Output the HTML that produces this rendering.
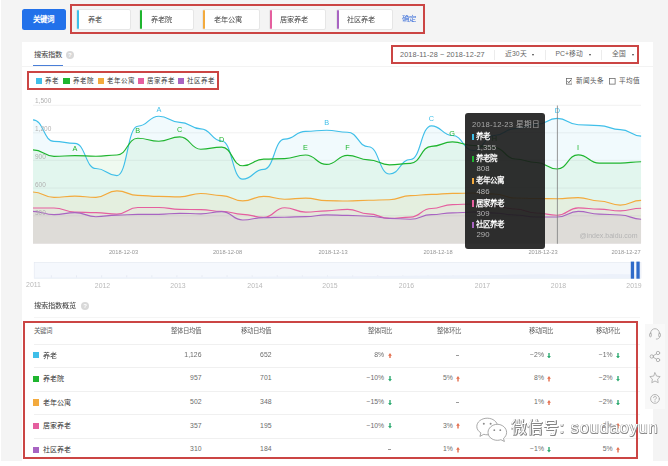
<!DOCTYPE html>
<html lang="zh-CN"><head><meta charset="utf-8">
<style>
*{margin:0;padding:0;box-sizing:border-box}
html,body{width:668px;height:466px;overflow:hidden}
body{background:#f4f4f4;font-family:"Liberation Sans",sans-serif;position:relative;color:#444}
.a{position:absolute;white-space:nowrap;line-height:1}
.red{position:absolute;border:2px solid #cb4544}
.inp{position:absolute;top:8.5px;height:21px;background:#fff;border-radius:2px;border:0.5px solid #e6e6e6}
.inp i{position:absolute;left:0;top:0;bottom:0;width:2px;border-radius:1px}
.inp span{position:absolute;left:10.9px;top:6.1px;font-size:7.2px;line-height:1;color:#444;white-space:nowrap}
.sq{position:absolute;width:6.4px;height:6.2px}
.hl{position:absolute;height:1px;background:#f0f0f0;left:33.5px;width:606.5px}
.r{text-align:right}
.wm{color:#fff;text-shadow:0.55px 0.55px 0 #858585,-0.45px -0.45px 0 #b0b0b0,0.55px -0.45px 0 #a2a2a2,-0.45px 0.55px 0 #a2a2a2,0.7px 0 0 #949494,0 0.7px 0 #949494}
</style></head><body style="filter:blur(0.4px)">
<!-- top bar -->
<div class="a" style="left:21.5px;top:8.5px;width:44px;height:21.5px;background:#2271ea;border-radius:2.5px;color:#fff;font-weight:bold;font-size:7.5px;text-align:center;line-height:21.5px">关键词</div>
<div class="inp" style="left:76px;width:54.5px"><i style="background:#3fbfe9"></i><span>养老</span></div>
<div class="inp" style="left:139px;width:54.5px"><i style="background:#1fb52f"></i><span>养老院</span></div>
<div class="inp" style="left:202px;width:57.5px"><i style="background:#f3aa3d"></i><span>老年公寓</span></div>
<div class="inp" style="left:268.5px;width:57.5px"><i style="background:#e55f9f"></i><span>居家养老</span></div>
<div class="inp" style="left:335.5px;width:57.5px"><i style="background:#a864c2"></i><span>社区养老</span></div>
<div class="a" style="left:402px;top:14.8px;font-size:7.4px;color:#3c6fd9">确定</div>
<div class="red" style="left:69.5px;top:3.5px;width:355px;height:30px"></div>

<!-- main panel -->
<div class="a" style="left:21.5px;top:41.5px;width:631px;height:430px;background:#fff"></div>
<div class="a" style="left:33.8px;top:51.2px;font-size:7.3px;color:#3a3a3a">搜索指数</div>
<div class="a" style="left:65.8px;top:50.7px;width:8.2px;height:8.2px;border-radius:50%;background:#d8d8d8;color:#fff;font-size:6px;line-height:8.4px;text-align:center;font-weight:bold">?</div>
<div class="a" style="left:33.2px;top:64.7px;width:30px;height:2px;background:#4a7fd8"></div>
<div class="a" style="left:21.5px;top:66px;width:631px;height:1px;background:#f3f3f3"></div>

<!-- controls -->
<div class="a" style="left:400px;top:50.5px;font-size:7.3px;color:#666;letter-spacing:0.1px">2018-11-28 ~ 2018-12-27</div>
<div class="a" style="left:494px;top:49.5px;width:1px;height:10px;background:#ececec"></div>
<div class="a" style="left:505px;top:50.8px;font-size:6.8px;color:#666">近30天</div>
<div class="a" style="left:532.2px;top:53.500px;width:0;height:0;border-left:1.900px solid transparent;border-right:1.900px solid transparent;border-top:2.500px solid #444"></div>
<div class="a" style="left:544.5px;top:49.5px;width:1px;height:10px;background:#ececec"></div>
<div class="a" style="left:555.5px;top:50.8px;font-size:6.8px;color:#666">PC+移动</div>
<div class="a" style="left:588.7px;top:53.500px;width:0;height:0;border-left:1.900px solid transparent;border-right:1.900px solid transparent;border-top:2.500px solid #444"></div>
<div class="a" style="left:600.5px;top:49.5px;width:1px;height:10px;background:#ececec"></div>
<div class="a" style="left:612px;top:50.8px;font-size:6.8px;color:#666">全国</div>
<div class="a" style="left:631.700px;top:53.500px;width:0;height:0;border-left:1.900px solid transparent;border-right:1.900px solid transparent;border-top:2.500px solid #444"></div>
<div class="red" style="left:390.5px;top:45px;width:248.5px;height:18.5px"></div>

<!-- legend -->
<div class="sq" style="left:35.9px;top:77.9px;background:#3fbfe9"></div><div class="a" style="left:44.5px;top:77.7px;font-size:6.5px;color:#3a3a3a">养老</div>
<div class="sq" style="left:63.3px;top:77.9px;background:#1fb52f"></div><div class="a" style="left:72.5px;top:77.7px;font-size:6.5px;color:#3a3a3a">养老院</div>
<div class="sq" style="left:97.5px;top:77.9px;background:#f3aa3d"></div><div class="a" style="left:106.5px;top:77.7px;font-size:6.5px;color:#3a3a3a">老年公寓</div>
<div class="sq" style="left:137.8px;top:77.9px;background:#e55f9f"></div><div class="a" style="left:147px;top:77.7px;font-size:6.5px;color:#3a3a3a">居家养老</div>
<div class="sq" style="left:177.8px;top:77.9px;background:#a864c2"></div><div class="a" style="left:187px;top:77.7px;font-size:6.5px;color:#3a3a3a">社区养老</div>
<div class="red" style="left:27.1px;top:71.3px;width:191.5px;height:18.7px"></div>

<!-- checkboxes -->
<svg class="a" style="left:565.7px;top:78.2px" width="6.500" height="6.500" viewBox="0 0 6 6"><rect x=".35" y=".35" width="5.300" height="5.300" fill="#fff" stroke="#666" stroke-width=".7"/><path d="M1.400 3l1.200 1.300 2.100-2.700" fill="none" stroke="#444" stroke-width=".8"/></svg>
<div class="a" style="left:575.5px;top:78px;font-size:6.6px;color:#555">新闻头条</div>
<svg class="a" style="left:609.4px;top:78.2px" width="6.500" height="6.500" viewBox="0 0 6 6"><rect x=".35" y=".35" width="5.300" height="5.300" fill="#fff" stroke="#666" stroke-width=".7"/></svg>
<div class="a" style="left:619px;top:78px;font-size:6.6px;color:#555">平均值</div>

<!-- chart -->
<svg class="a" style="left:0;top:0" width="668" height="300" viewBox="0 0 668 300" font-family="Liberation Sans, sans-serif">
<g stroke="#f0f0f0" stroke-width="0.9">
<line x1="33" y1="105.3" x2="641" y2="105.3"/><line x1="33" y1="132.8" x2="641" y2="132.8"/><line x1="33" y1="160.4" x2="641" y2="160.4"/><line x1="33" y1="188.1" x2="641" y2="188.1"/><line x1="33" y1="215.8" x2="641" y2="215.8"/>
</g>
<path d="M33.0 119.8C43.5 119.8 43.5 141.4 54.0 141.4C64.5 141.4 64.5 143.3 74.9 143.3C85.4 143.3 85.4 168.5 95.9 168.5C106.4 168.5 106.4 175.6 116.9 175.6C127.4 175.6 127.4 126.2 137.8 126.2C148.3 126.2 148.3 116.2 158.8 116.2C169.3 116.2 169.3 122.3 179.8 122.3C190.3 122.3 190.3 128.9 200.8 128.9C211.2 128.9 211.2 141.0 221.7 141.0C232.2 141.0 232.2 179.1 242.7 179.1C253.2 179.1 253.2 169.4 263.7 169.4C274.2 169.4 274.2 139.1 284.6 139.1C295.1 139.1 295.1 131.4 305.6 131.4C316.1 131.4 316.1 130.2 326.6 130.2C337.1 130.2 337.1 132.2 347.5 132.2C358.0 132.2 358.0 146.7 368.5 146.7C379.0 146.7 379.0 174.0 389.5 174.0C400.0 174.0 400.0 159.5 410.5 159.5C420.9 159.5 420.9 125.8 431.4 125.8C441.9 125.8 441.9 135.5 452.4 135.5C462.9 135.5 462.9 150.5 473.4 150.5C483.9 150.5 483.9 135.5 494.3 135.5C504.8 135.5 504.8 128.5 515.3 128.5C525.8 128.5 525.8 124.5 536.3 124.5C546.8 124.5 546.8 118.3 557.2 118.3C567.7 118.3 567.7 124.7 578.2 124.7C588.7 124.7 588.7 125.6 599.2 125.6C609.7 125.6 609.7 129.6 620.2 129.6C630.6 129.6 630.6 136.1 641.1 136.1L641.1 243.8L33.0 243.8Z" fill="#3fbfe9" fill-opacity="0.07" stroke="none"/>
<path d="M33.0 149.9C43.5 149.9 43.5 156.3 54.0 156.3C64.5 156.3 64.5 155.6 74.9 155.6C85.4 155.6 85.4 156.2 95.9 156.2C106.4 156.2 106.4 155.0 116.9 155.0C127.4 155.0 127.4 138.2 137.8 138.2C148.3 138.2 148.3 141.2 158.8 141.2C169.3 141.2 169.3 136.8 179.8 136.8C190.3 136.8 190.3 149.2 200.8 149.2C211.2 149.2 211.2 147.1 221.7 147.1C232.2 147.1 232.2 165.7 242.7 165.7C253.2 165.7 253.2 159.1 263.7 159.1C274.2 159.1 274.2 158.6 284.6 158.6C295.1 158.6 295.1 155.0 305.6 155.0C316.1 155.0 316.1 164.4 326.6 164.4C337.1 164.4 337.1 155.3 347.5 155.3C358.0 155.3 358.0 159.8 368.5 159.8C379.0 159.8 379.0 164.9 389.5 164.9C400.0 164.9 400.0 163.3 410.5 163.3C420.9 163.3 420.9 146.3 431.4 146.3C441.9 146.3 441.9 141.9 452.4 141.9C462.9 141.9 462.9 145.5 473.4 145.5C483.9 145.5 483.9 147.5 494.3 147.5C504.8 147.5 504.8 159.0 515.3 159.0C525.8 159.0 525.8 162.5 536.3 162.5C546.8 162.5 546.8 169.0 557.2 169.0C567.7 169.0 567.7 154.8 578.2 154.8C588.7 154.8 588.7 163.1 599.2 163.1C609.7 163.1 609.7 163.1 620.2 163.1C630.6 163.1 630.6 161.7 641.1 161.7L641.1 243.8L33.0 243.8Z" fill="#1fb52f" fill-opacity="0.07" stroke="none"/>
<path d="M33.0 192.0C43.5 192.0 43.5 197.3 54.0 197.3C64.5 197.3 64.5 196.1 74.9 196.1C85.4 196.1 85.4 197.3 95.9 197.3C106.4 197.3 106.4 190.8 116.9 190.8C127.4 190.8 127.4 195.4 137.8 195.4C148.3 195.4 148.3 196.4 158.8 196.4C169.3 196.4 169.3 196.8 179.8 196.8C190.3 196.8 190.3 193.5 200.8 193.5C211.2 193.5 211.2 195.6 221.7 195.6C232.2 195.6 232.2 200.9 242.7 200.9C253.2 200.9 253.2 196.4 263.7 196.4C274.2 196.4 274.2 199.2 284.6 199.2C295.1 199.2 295.1 198.1 305.6 198.1C316.1 198.1 316.1 200.6 326.6 200.6C337.1 200.6 337.1 201.0 347.5 201.0C358.0 201.0 358.0 200.2 368.5 200.2C379.0 200.2 379.0 199.7 389.5 199.7C400.0 199.7 400.0 195.6 410.5 195.6C420.9 195.6 420.9 194.4 431.4 194.4C441.9 194.4 441.9 193.4 452.4 193.4C462.9 193.4 462.9 193.0 473.4 193.0C483.9 193.0 483.9 194.0 494.3 194.0C504.8 194.0 504.8 198.0 515.3 198.0C525.8 198.0 525.8 198.5 536.3 198.5C546.8 198.5 546.8 198.7 557.2 198.7C567.7 198.7 567.7 197.6 578.2 197.6C588.7 197.6 588.7 201.0 599.2 201.0C609.7 201.0 609.7 205.1 620.2 205.1C630.6 205.1 630.6 200.3 641.1 200.3L641.1 243.8L33.0 243.8Z" fill="#f3aa3d" fill-opacity="0.09" stroke="none"/>
<path d="M33.0 208.0C43.5 208.0 43.5 208.0 54.0 208.0C64.5 208.0 64.5 212.1 74.9 212.1C85.4 212.1 85.4 212.6 95.9 212.6C106.4 212.6 106.4 214.1 116.9 214.1C127.4 214.1 127.4 207.5 137.8 207.5C148.3 207.5 148.3 207.5 158.8 207.5C169.3 207.5 169.3 209.3 179.8 209.3C190.3 209.3 190.3 209.6 200.8 209.6C211.2 209.6 211.2 211.3 221.7 211.3C232.2 211.3 232.2 214.3 242.7 214.3C253.2 214.3 253.2 217.4 263.7 217.4C274.2 217.4 274.2 207.7 284.6 207.7C295.1 207.7 295.1 212.1 305.6 212.1C316.1 212.1 316.1 210.8 326.6 210.8C337.1 210.8 337.1 209.3 347.5 209.3C358.0 209.3 358.0 213.8 368.5 213.8C379.0 213.8 379.0 218.4 389.5 218.4C400.0 218.4 400.0 217.1 410.5 217.1C420.9 217.1 420.9 208.5 431.4 208.5C441.9 208.5 441.9 204.6 452.4 204.6C462.9 204.6 462.9 204.0 473.4 204.0C483.9 204.0 483.9 206.0 494.3 206.0C504.8 206.0 504.8 209.0 515.3 209.0C525.8 209.0 525.8 213.0 536.3 213.0C546.8 213.0 546.8 215.2 557.2 215.2C567.7 215.2 567.7 207.8 578.2 207.8C588.7 207.8 588.7 209.1 599.2 209.1C609.7 209.1 609.7 210.9 620.2 210.9C630.6 210.9 630.6 208.2 641.1 208.2L641.1 243.8L33.0 243.8Z" fill="#e55f9f" fill-opacity="0.05" stroke="none"/>
<path d="M33.0 211.3C43.5 211.3 43.5 214.6 54.0 214.6C64.5 214.6 64.5 212.6 74.9 212.6C85.4 212.6 85.4 216.7 95.9 216.7C106.4 216.7 106.4 215.1 116.9 215.1C127.4 215.1 127.4 214.3 137.8 214.3C148.3 214.3 148.3 214.3 158.8 214.3C169.3 214.3 169.3 213.3 179.8 213.3C190.3 213.3 190.3 213.8 200.8 213.8C211.2 213.8 211.2 211.6 221.7 211.6C232.2 211.6 232.2 220.0 242.7 220.0C253.2 220.0 253.2 217.6 263.7 217.6C274.2 217.6 274.2 217.2 284.6 217.2C295.1 217.2 295.1 216.6 305.6 216.6C316.1 216.6 316.1 214.9 326.6 214.9C337.1 214.9 337.1 215.4 347.5 215.4C358.0 215.4 358.0 216.2 368.5 216.2C379.0 216.2 379.0 218.4 389.5 218.4C400.0 218.4 400.0 219.2 410.5 219.2C420.9 219.2 420.9 214.6 431.4 214.6C441.9 214.6 441.9 212.9 452.4 212.9C462.9 212.9 462.9 212.0 473.4 212.0C483.9 212.0 483.9 213.0 494.3 213.0C504.8 213.0 504.8 215.0 515.3 215.0C525.8 215.0 525.8 217.0 536.3 217.0C546.8 217.0 546.8 217.0 557.2 217.0C567.7 217.0 567.7 211.4 578.2 211.4C588.7 211.4 588.7 214.1 599.2 214.1C609.7 214.1 609.7 215.0 620.2 215.0C630.6 215.0 630.6 219.2 641.1 219.2L641.1 243.8L33.0 243.8Z" fill="#a864c2" fill-opacity="0.09" stroke="none"/>
<path d="M33.0 119.8C43.5 119.8 43.5 141.4 54.0 141.4C64.5 141.4 64.5 143.3 74.9 143.3C85.4 143.3 85.4 168.5 95.9 168.5C106.4 168.5 106.4 175.6 116.9 175.6C127.4 175.6 127.4 126.2 137.8 126.2C148.3 126.2 148.3 116.2 158.8 116.2C169.3 116.2 169.3 122.3 179.8 122.3C190.3 122.3 190.3 128.9 200.8 128.9C211.2 128.9 211.2 141.0 221.7 141.0C232.2 141.0 232.2 179.1 242.7 179.1C253.2 179.1 253.2 169.4 263.7 169.4C274.2 169.4 274.2 139.1 284.6 139.1C295.1 139.1 295.1 131.4 305.6 131.4C316.1 131.4 316.1 130.2 326.6 130.2C337.1 130.2 337.1 132.2 347.5 132.2C358.0 132.2 358.0 146.7 368.5 146.7C379.0 146.7 379.0 174.0 389.5 174.0C400.0 174.0 400.0 159.5 410.5 159.5C420.9 159.5 420.9 125.8 431.4 125.8C441.9 125.8 441.9 135.5 452.4 135.5C462.9 135.5 462.9 150.5 473.4 150.5C483.9 150.5 483.9 135.5 494.3 135.5C504.8 135.5 504.8 128.5 515.3 128.5C525.8 128.5 525.8 124.5 536.3 124.5C546.8 124.5 546.8 118.3 557.2 118.3C567.7 118.3 567.7 124.7 578.2 124.7C588.7 124.7 588.7 125.6 599.2 125.6C609.7 125.6 609.7 129.6 620.2 129.6C630.6 129.6 630.6 136.1 641.1 136.1" fill="none" stroke="#3fbfe9" stroke-width="1.15" stroke-linejoin="round"/>
<path d="M33.0 149.9C43.5 149.9 43.5 156.3 54.0 156.3C64.5 156.3 64.5 155.6 74.9 155.6C85.4 155.6 85.4 156.2 95.9 156.2C106.4 156.2 106.4 155.0 116.9 155.0C127.4 155.0 127.4 138.2 137.8 138.2C148.3 138.2 148.3 141.2 158.8 141.2C169.3 141.2 169.3 136.8 179.8 136.8C190.3 136.8 190.3 149.2 200.8 149.2C211.2 149.2 211.2 147.1 221.7 147.1C232.2 147.1 232.2 165.7 242.7 165.7C253.2 165.7 253.2 159.1 263.7 159.1C274.2 159.1 274.2 158.6 284.6 158.6C295.1 158.6 295.1 155.0 305.6 155.0C316.1 155.0 316.1 164.4 326.6 164.4C337.1 164.4 337.1 155.3 347.5 155.3C358.0 155.3 358.0 159.8 368.5 159.8C379.0 159.8 379.0 164.9 389.5 164.9C400.0 164.9 400.0 163.3 410.5 163.3C420.9 163.3 420.9 146.3 431.4 146.3C441.9 146.3 441.9 141.9 452.4 141.9C462.9 141.9 462.9 145.5 473.4 145.5C483.9 145.5 483.9 147.5 494.3 147.5C504.8 147.5 504.8 159.0 515.3 159.0C525.8 159.0 525.8 162.5 536.3 162.5C546.8 162.5 546.8 169.0 557.2 169.0C567.7 169.0 567.7 154.8 578.2 154.8C588.7 154.8 588.7 163.1 599.2 163.1C609.7 163.1 609.7 163.1 620.2 163.1C630.6 163.1 630.6 161.7 641.1 161.7" fill="none" stroke="#1fb52f" stroke-width="1.15" stroke-linejoin="round"/>
<path d="M33.0 192.0C43.5 192.0 43.5 197.3 54.0 197.3C64.5 197.3 64.5 196.1 74.9 196.1C85.4 196.1 85.4 197.3 95.9 197.3C106.4 197.3 106.4 190.8 116.9 190.8C127.4 190.8 127.4 195.4 137.8 195.4C148.3 195.4 148.3 196.4 158.8 196.4C169.3 196.4 169.3 196.8 179.8 196.8C190.3 196.8 190.3 193.5 200.8 193.5C211.2 193.5 211.2 195.6 221.7 195.6C232.2 195.6 232.2 200.9 242.7 200.9C253.2 200.9 253.2 196.4 263.7 196.4C274.2 196.4 274.2 199.2 284.6 199.2C295.1 199.2 295.1 198.1 305.6 198.1C316.1 198.1 316.1 200.6 326.6 200.6C337.1 200.6 337.1 201.0 347.5 201.0C358.0 201.0 358.0 200.2 368.5 200.2C379.0 200.2 379.0 199.7 389.5 199.7C400.0 199.7 400.0 195.6 410.5 195.6C420.9 195.6 420.9 194.4 431.4 194.4C441.9 194.4 441.9 193.4 452.4 193.4C462.9 193.4 462.9 193.0 473.4 193.0C483.9 193.0 483.9 194.0 494.3 194.0C504.8 194.0 504.8 198.0 515.3 198.0C525.8 198.0 525.8 198.5 536.3 198.5C546.8 198.5 546.8 198.7 557.2 198.7C567.7 198.7 567.7 197.6 578.2 197.6C588.7 197.6 588.7 201.0 599.2 201.0C609.7 201.0 609.7 205.1 620.2 205.1C630.6 205.1 630.6 200.3 641.1 200.3" fill="none" stroke="#f3aa3d" stroke-width="1.15" stroke-linejoin="round"/>
<path d="M33.0 208.0C43.5 208.0 43.5 208.0 54.0 208.0C64.5 208.0 64.5 212.1 74.9 212.1C85.4 212.1 85.4 212.6 95.9 212.6C106.4 212.6 106.4 214.1 116.9 214.1C127.4 214.1 127.4 207.5 137.8 207.5C148.3 207.5 148.3 207.5 158.8 207.5C169.3 207.5 169.3 209.3 179.8 209.3C190.3 209.3 190.3 209.6 200.8 209.6C211.2 209.6 211.2 211.3 221.7 211.3C232.2 211.3 232.2 214.3 242.7 214.3C253.2 214.3 253.2 217.4 263.7 217.4C274.2 217.4 274.2 207.7 284.6 207.7C295.1 207.7 295.1 212.1 305.6 212.1C316.1 212.1 316.1 210.8 326.6 210.8C337.1 210.8 337.1 209.3 347.5 209.3C358.0 209.3 358.0 213.8 368.5 213.8C379.0 213.8 379.0 218.4 389.5 218.4C400.0 218.4 400.0 217.1 410.5 217.1C420.9 217.1 420.9 208.5 431.4 208.5C441.9 208.5 441.9 204.6 452.4 204.6C462.9 204.6 462.9 204.0 473.4 204.0C483.9 204.0 483.9 206.0 494.3 206.0C504.8 206.0 504.8 209.0 515.3 209.0C525.8 209.0 525.8 213.0 536.3 213.0C546.8 213.0 546.8 215.2 557.2 215.2C567.7 215.2 567.7 207.8 578.2 207.8C588.7 207.8 588.7 209.1 599.2 209.1C609.7 209.1 609.7 210.9 620.2 210.9C630.6 210.9 630.6 208.2 641.1 208.2" fill="none" stroke="#e55f9f" stroke-width="1.15" stroke-linejoin="round"/>
<path d="M33.0 211.3C43.5 211.3 43.5 214.6 54.0 214.6C64.5 214.6 64.5 212.6 74.9 212.6C85.4 212.6 85.4 216.7 95.9 216.7C106.4 216.7 106.4 215.1 116.9 215.1C127.4 215.1 127.4 214.3 137.8 214.3C148.3 214.3 148.3 214.3 158.8 214.3C169.3 214.3 169.3 213.3 179.8 213.3C190.3 213.3 190.3 213.8 200.8 213.8C211.2 213.8 211.2 211.6 221.7 211.6C232.2 211.6 232.2 220.0 242.7 220.0C253.2 220.0 253.2 217.6 263.7 217.6C274.2 217.6 274.2 217.2 284.6 217.2C295.1 217.2 295.1 216.6 305.6 216.6C316.1 216.6 316.1 214.9 326.6 214.9C337.1 214.9 337.1 215.4 347.5 215.4C358.0 215.4 358.0 216.2 368.5 216.2C379.0 216.2 379.0 218.4 389.5 218.4C400.0 218.4 400.0 219.2 410.5 219.2C420.9 219.2 420.9 214.6 431.4 214.6C441.9 214.6 441.9 212.9 452.4 212.9C462.9 212.9 462.9 212.0 473.4 212.0C483.9 212.0 483.9 213.0 494.3 213.0C504.8 213.0 504.8 215.0 515.3 215.0C525.8 215.0 525.8 217.0 536.3 217.0C546.8 217.0 546.8 217.0 557.2 217.0C567.7 217.0 567.7 211.4 578.2 211.4C588.7 211.4 588.7 214.1 599.2 214.1C609.7 214.1 609.7 215.0 620.2 215.0C630.6 215.0 630.6 219.2 641.1 219.2" fill="none" stroke="#a864c2" stroke-width="1.15" stroke-linejoin="round"/>
<g font-size="6.5" fill="#b0b0b0">
<text x="35" y="103.3">1,500</text><text x="35" y="131">1,200</text><text x="35" y="159">900</text><text x="35" y="186.8">600</text><text x="35" y="214.5">300</text>
</g>
<g font-size="7.3" text-anchor="middle">
<g fill="#1fb52f"><text x="75" y="150.8">A</text><text x="137.8" y="133">B</text><text x="179.7" y="132">C</text><text x="221.7" y="142.2">D</text><text x="305.5" y="150.2">E</text><text x="347.5" y="150.2">F</text><text x="452" y="135.8">G</text><text x="494.3" y="141.3">H</text><text x="578.1" y="150.2">I</text></g>
<g fill="#3fbfe9"><text x="158.9" y="112.2">A</text><text x="326.6" y="125.2">B</text><text x="431.4" y="121">C</text><text x="557.4" y="112.9">D</text></g>
</g>
<line x1="557.4" y1="105.5" x2="557.4" y2="243.8" stroke="#7d7d7d" stroke-width="0.8"/>
<text x="579.5" y="238" font-size="7" fill="#b4b4b4">@index.baidu.com</text>
<g font-size="5.7" fill="#959595" text-anchor="middle">
<text x="123.5" y="253.5">2018-12-03</text><text x="227.5" y="253.5">2018-12-08</text><text x="333" y="253.5">2018-12-13</text><text x="438" y="253.5">2018-12-18</text><text x="543" y="253.5">2018-12-23</text><text x="626" y="253.5">2018-12-27</text>
</g>
<!-- brush -->
<rect x="34.2" y="262.4" width="606.8" height="15.8" fill="#f5f8fd" stroke="#e3e8f1" stroke-width="0.6"/>
<g stroke="#dde3ec" stroke-width="0.6"><line x1="51.4" y1="275.3" x2="51.4" y2="278"/><line x1="76.5" y1="275.3" x2="76.5" y2="278"/><line x1="101.6" y1="275.3" x2="101.6" y2="278"/><line x1="126.7" y1="275.3" x2="126.7" y2="278"/><line x1="151.8" y1="275.3" x2="151.8" y2="278"/><line x1="176.9" y1="275.3" x2="176.9" y2="278"/><line x1="202.0" y1="275.3" x2="202.0" y2="278"/><line x1="227.1" y1="275.3" x2="227.1" y2="278"/><line x1="252.2" y1="275.3" x2="252.2" y2="278"/><line x1="277.3" y1="275.3" x2="277.3" y2="278"/><line x1="302.4" y1="275.3" x2="302.4" y2="278"/><line x1="327.5" y1="275.3" x2="327.5" y2="278"/><line x1="352.6" y1="275.3" x2="352.6" y2="278"/><line x1="377.7" y1="275.3" x2="377.7" y2="278"/><line x1="402.8" y1="275.3" x2="402.8" y2="278"/><line x1="427.9" y1="275.3" x2="427.9" y2="278"/><line x1="453.0" y1="275.3" x2="453.0" y2="278"/><line x1="478.1" y1="275.3" x2="478.1" y2="278"/><line x1="503.2" y1="275.3" x2="503.2" y2="278"/><line x1="528.3" y1="275.3" x2="528.3" y2="278"/><line x1="553.4" y1="275.3" x2="553.4" y2="278"/><line x1="578.5" y1="275.3" x2="578.5" y2="278"/><line x1="603.6" y1="275.3" x2="603.6" y2="278"/></g>
<path d="M34.2 277.5L120 277.300 200 277 280 276.600 360 276.200 430 275.600 500 275 540 274.300 580 274.800 610 274 641 274.600V278.200H34.200Z" fill="#ecf1fa"/>
<rect x="630.800" y="261.600" width="3.300" height="17.100" fill="#2f6bc9"/><rect x="636.400" y="261.600" width="3.300" height="17.100" fill="#2f6bc9"/>
<g font-size="6.900" fill="#b9b9b9" text-anchor="middle">
<text x="33.500" y="287.100">2011</text><text x="102.500" y="287.900">2012</text><text x="178" y="287.900">2013</text><text x="255" y="287.900">2014</text><text x="330" y="287.900">2015</text><text x="406.500" y="287.900">2016</text><text x="482.500" y="287.900">2017</text><text x="558.500" y="287.900">2018</text><text x="634" y="287.900">2019</text>
</g>
</svg>

<!-- tooltip -->
<div class="a" style="left:465px;top:113px;width:80px;height:136.3px;background:rgba(27,27,27,0.905);border-radius:3px"></div>
<div class="a" style="left:472px;top:120.8px;font-size:7.7px;color:#a8a8a8;letter-spacing:0.2px">2018-12-23 星期日</div>
<div class="a" style="left:472px;top:133.5px;width:1.6px;height:6.5px;background:#3fbfe9"></div><div class="a" style="left:476px;top:133px;font-size:7.5px;font-weight:bold;color:#fff">养老</div><div class="a" style="left:476.5px;top:143.5px;font-size:7.8px;color:#b4b4b4">1,355</div>
<div class="a" style="left:472px;top:155.5px;width:1.6px;height:6.5px;background:#1fb52f"></div><div class="a" style="left:476px;top:155px;font-size:7.5px;font-weight:bold;color:#fff">养老院</div><div class="a" style="left:476.5px;top:165.3px;font-size:7.8px;color:#b4b4b4">808</div>
<div class="a" style="left:472px;top:177.8px;width:1.6px;height:6.5px;background:#f3aa3d"></div><div class="a" style="left:476px;top:177.3px;font-size:7.5px;font-weight:bold;color:#fff">老年公寓</div><div class="a" style="left:476.5px;top:187.5px;font-size:7.8px;color:#b4b4b4">486</div>
<div class="a" style="left:472px;top:200px;width:1.6px;height:6.5px;background:#e55f9f"></div><div class="a" style="left:476px;top:199.8px;font-size:7.5px;font-weight:bold;color:#fff">居家养老</div><div class="a" style="left:476.5px;top:209.5px;font-size:7.8px;color:#b4b4b4">309</div>
<div class="a" style="left:472px;top:221.8px;width:1.6px;height:6.5px;background:#a864c2"></div><div class="a" style="left:476px;top:221.3px;font-size:7.5px;font-weight:bold;color:#fff">社区养老</div><div class="a" style="left:476.5px;top:231.3px;font-size:7.8px;color:#b4b4b4">290</div>

<!-- overview -->
<div class="a" style="left:33.5px;top:302.2px;font-size:7.25px;color:#3a3a3a">搜索指数概览</div>
<div class="a" style="left:80.9px;top:302.1px;width:8.2px;height:8.2px;border-radius:50%;background:#d8d8d8;color:#fff;font-size:6px;line-height:8.4px;text-align:center;font-weight:bold">?</div>
<div class="a" style="left:33.5px;top:317px;width:606.5px;height:1px;background:#f5f5f5"></div>

<div class="a" style="left:33.5px;top:328.3px;font-size:6.45px;color:#606060">关键词</div>
<div class="a r" style="left:140.2px;width:60.5px;top:328.3px;font-size:6.45px;color:#606060">整体日均值</div>
<div class="a r" style="left:210.2px;width:60.5px;top:328.3px;font-size:6.45px;color:#606060">移动日均值</div>
<div class="a r" style="left:331px;width:60.5px;top:328.3px;font-size:6.45px;color:#606060">整体同比</div>
<div class="a r" style="left:400px;width:60.5px;top:328.3px;font-size:6.45px;color:#606060">整体环比</div>
<div class="a r" style="left:492px;width:60.5px;top:328.3px;font-size:6.45px;color:#606060">移动同比</div>
<div class="a r" style="left:559.6px;width:60.5px;top:328.3px;font-size:6.45px;color:#606060">移动环比</div>
<div class="hl" style="top:343.5px"></div><div class="hl" style="top:367.3px"></div><div class="hl" style="top:390.8px"></div><div class="hl" style="top:414.2px"></div><div class="hl" style="top:437.5px"></div>
<div class="sq" style="left:33.1px;top:352.2px;background:#3fbfe9"></div><div class="a" style="left:42.5px;top:351.6px;font-size:7px;color:#333">养老</div>
<div class="a r" style="left:141px;width:60.5px;top:351.8px;font-size:6.85px;color:#6c6c6c">1,126</div>
<div class="a r" style="left:211px;width:60.5px;top:351.8px;font-size:6.85px;color:#6c6c6c">652</div>
<div class="a r" style="left:344.2px;width:40px;top:351.8px;font-size:6.85px;color:#6c6c6c">8%</div>
<svg class="a" style="left:387.6px;top:352.6px" width="4" height="5.600" viewBox="0 0 4 5.600"><path d="M2 0L3.9 2.7H2.7V5.6H1.3V2.7H0.1Z" fill="#e4704f"/></svg>
<div class="a" style="left:456.2px;top:354.5px;width:3.2px;height:0.7px;background:#9a9a9a"></div>
<div class="a r" style="left:504.0px;width:40px;top:351.8px;font-size:6.85px;color:#6c6c6c">−2%</div>
<svg class="a" style="left:547.4px;top:352.6px" width="4" height="5.600" viewBox="0 0 4 5.600"><path d="M2 5.6L3.9 2.9H2.7V0H1.3V2.9H0.1Z" fill="#2fab72"/></svg>
<div class="a r" style="left:572.6px;width:40px;top:351.8px;font-size:6.85px;color:#6c6c6c">−1%</div>
<svg class="a" style="left:616.0px;top:352.6px" width="4" height="5.600" viewBox="0 0 4 5.600"><path d="M2 5.6L3.9 2.9H2.7V0H1.3V2.9H0.1Z" fill="#2fab72"/></svg>
<div class="sq" style="left:33.1px;top:375.8px;background:#1fb52f"></div><div class="a" style="left:42.5px;top:375.2px;font-size:7px;color:#333">养老院</div>
<div class="a r" style="left:141px;width:60.5px;top:375.4px;font-size:6.85px;color:#6c6c6c">957</div>
<div class="a r" style="left:211px;width:60.5px;top:375.4px;font-size:6.85px;color:#6c6c6c">701</div>
<div class="a r" style="left:344.2px;width:40px;top:375.4px;font-size:6.85px;color:#6c6c6c">−10%</div>
<svg class="a" style="left:387.6px;top:376.2px" width="4" height="5.600" viewBox="0 0 4 5.600"><path d="M2 5.6L3.9 2.9H2.7V0H1.3V2.9H0.1Z" fill="#2fab72"/></svg>
<div class="a r" style="left:412.9px;width:40px;top:375.4px;font-size:6.85px;color:#6c6c6c">5%</div>
<svg class="a" style="left:456.3px;top:376.2px" width="4" height="5.600" viewBox="0 0 4 5.600"><path d="M2 0L3.9 2.7H2.7V5.6H1.3V2.7H0.1Z" fill="#e4704f"/></svg>
<div class="a r" style="left:504.0px;width:40px;top:375.4px;font-size:6.85px;color:#6c6c6c">8%</div>
<svg class="a" style="left:547.4px;top:376.2px" width="4" height="5.600" viewBox="0 0 4 5.600"><path d="M2 0L3.9 2.7H2.7V5.6H1.3V2.7H0.1Z" fill="#e4704f"/></svg>
<div class="a r" style="left:572.6px;width:40px;top:375.4px;font-size:6.85px;color:#6c6c6c">−2%</div>
<svg class="a" style="left:616.0px;top:376.2px" width="4" height="5.600" viewBox="0 0 4 5.600"><path d="M2 5.6L3.9 2.9H2.7V0H1.3V2.9H0.1Z" fill="#2fab72"/></svg>
<div class="sq" style="left:33.1px;top:399.4px;background:#f3aa3d"></div><div class="a" style="left:42.5px;top:398.8px;font-size:7px;color:#333">老年公寓</div>
<div class="a r" style="left:141px;width:60.5px;top:399.0px;font-size:6.85px;color:#6c6c6c">502</div>
<div class="a r" style="left:211px;width:60.5px;top:399.0px;font-size:6.85px;color:#6c6c6c">348</div>
<div class="a r" style="left:344.2px;width:40px;top:399.0px;font-size:6.85px;color:#6c6c6c">−15%</div>
<svg class="a" style="left:387.6px;top:399.8px" width="4" height="5.600" viewBox="0 0 4 5.600"><path d="M2 5.6L3.9 2.9H2.7V0H1.3V2.9H0.1Z" fill="#2fab72"/></svg>
<div class="a" style="left:456.2px;top:401.7px;width:3.2px;height:0.7px;background:#9a9a9a"></div>
<div class="a r" style="left:504.0px;width:40px;top:399.0px;font-size:6.85px;color:#6c6c6c">1%</div>
<svg class="a" style="left:547.4px;top:399.8px" width="4" height="5.600" viewBox="0 0 4 5.600"><path d="M2 0L3.9 2.7H2.7V5.6H1.3V2.7H0.1Z" fill="#e4704f"/></svg>
<div class="a r" style="left:572.6px;width:40px;top:399.0px;font-size:6.85px;color:#6c6c6c">−2%</div>
<svg class="a" style="left:616.0px;top:399.8px" width="4" height="5.600" viewBox="0 0 4 5.600"><path d="M2 5.6L3.9 2.9H2.7V0H1.3V2.9H0.1Z" fill="#2fab72"/></svg>
<div class="sq" style="left:33.1px;top:423.0px;background:#e55f9f"></div><div class="a" style="left:42.5px;top:422.4px;font-size:7px;color:#333">居家养老</div>
<div class="a r" style="left:141px;width:60.5px;top:422.6px;font-size:6.85px;color:#6c6c6c">357</div>
<div class="a r" style="left:211px;width:60.5px;top:422.6px;font-size:6.85px;color:#6c6c6c">195</div>
<div class="a r" style="left:344.2px;width:40px;top:422.6px;font-size:6.85px;color:#6c6c6c">−10%</div>
<svg class="a" style="left:387.6px;top:423.4px" width="4" height="5.600" viewBox="0 0 4 5.600"><path d="M2 5.6L3.9 2.9H2.7V0H1.3V2.9H0.1Z" fill="#2fab72"/></svg>
<div class="a r" style="left:412.9px;width:40px;top:422.6px;font-size:6.85px;color:#6c6c6c">3%</div>
<svg class="a" style="left:456.3px;top:423.4px" width="4" height="5.600" viewBox="0 0 4 5.600"><path d="M2 0L3.9 2.7H2.7V5.6H1.3V2.7H0.1Z" fill="#e4704f"/></svg>
<div class="a" style="left:547.3px;top:425.3px;width:3.2px;height:0.7px;background:#9a9a9a"></div>
<div class="a r" style="left:572.6px;width:40px;top:422.6px;font-size:6.85px;color:#6c6c6c">2%</div>
<svg class="a" style="left:616.0px;top:423.4px" width="4" height="5.600" viewBox="0 0 4 5.600"><path d="M2 0L3.9 2.7H2.7V5.6H1.3V2.7H0.1Z" fill="#e4704f"/></svg>
<div class="sq" style="left:33.1px;top:446.6px;background:#a864c2"></div><div class="a" style="left:42.5px;top:446.0px;font-size:7px;color:#333">社区养老</div>
<div class="a r" style="left:141px;width:60.5px;top:446.2px;font-size:6.85px;color:#6c6c6c">310</div>
<div class="a r" style="left:211px;width:60.5px;top:446.2px;font-size:6.85px;color:#6c6c6c">184</div>
<div class="a" style="left:387.5px;top:448.9px;width:3.2px;height:0.7px;background:#9a9a9a"></div>
<div class="a r" style="left:412.9px;width:40px;top:446.2px;font-size:6.85px;color:#6c6c6c">1%</div>
<svg class="a" style="left:456.3px;top:447.0px" width="4" height="5.600" viewBox="0 0 4 5.600"><path d="M2 0L3.9 2.7H2.7V5.6H1.3V2.7H0.1Z" fill="#e4704f"/></svg>
<div class="a r" style="left:504.0px;width:40px;top:446.2px;font-size:6.85px;color:#6c6c6c">−1%</div>
<svg class="a" style="left:547.4px;top:447.0px" width="4" height="5.600" viewBox="0 0 4 5.600"><path d="M2 5.6L3.9 2.9H2.7V0H1.3V2.9H0.1Z" fill="#2fab72"/></svg>
<div class="a r" style="left:572.6px;width:40px;top:446.2px;font-size:6.85px;color:#6c6c6c">5%</div>
<svg class="a" style="left:616.0px;top:447.0px" width="4" height="5.600" viewBox="0 0 4 5.600"><path d="M2 0L3.9 2.7H2.7V5.6H1.3V2.7H0.1Z" fill="#e4704f"/></svg>
<div class="red" style="left:22.9px;top:320.7px;width:615.5px;height:138px"></div>

<!-- toolbar -->
<div class="a" style="left:645px;top:324.3px;width:19.5px;height:84.5px;background:#f8f8f8"></div>
<svg class="a" style="left:645px;top:324px" width="20" height="86" viewBox="0 0 20 86" fill="none" stroke="#a6a6a6" stroke-width="0.8" stroke-linecap="round" stroke-linejoin="round">
<path d="M5.7 9.6v-.6a4.3 4.3 0 0 1 8.600 0v.6"/><rect x="4.600" y="9.200" width="1.700" height="3.600" rx=".8"/><rect x="13.700" y="9.200" width="1.700" height="3.600" rx=".8"/><path d="M14.600 12.800c0 1.500-1.300 2.300-3.300 2.300"/>
<circle cx="13" cy="29" r="1.700"/><circle cx="6.800" cy="32.500" r="1.700"/><circle cx="13" cy="36" r="1.700"/><path d="M8.300 31.700l3.200-1.900M8.300 33.300l3.200 1.900"/>
<path d="M10 48.800l1.600 3.300 3.600.5-2.600 2.500.6 3.600-3.200-1.700-3.200 1.700.6-3.600-2.600-2.500 3.600-.5z"/>
<circle cx="10" cy="74.900" r="4.400"/><path d="M8.600 73.700a1.400 1.400 0 1 1 2.100 1.200c-.5.300-.7.600-.7 1.200M10 77.400v.1"/>
</svg>

<!-- watermark -->
<svg class="a" style="left:474px;top:414px" width="36" height="30" viewBox="0 0 36 30" fill="#fff" stroke="#8c8c8c" stroke-width="0.75">
<path d="M13.2 4.2c5.8 0 10.4 3.7 10.4 8.3s-4.6 8.3-10.4 8.3c-1.2 0-2.3-.2-3.4-.5l-3.9 2.1 1-3.5c-2.5-1.500-4.100-3.800-4.100-6.400 0-4.600 4.600-8.300 10.400-8.300z"/>
<path d="M23.300 10.300c5.100 0 9.300 3.700 9.300 8.200 0 2.300-1.200 4.400-3.100 5.900l.9 3.100-3.500-1.800c-1.100.4-2.300.6-3.600.6-5.100 0-9.300-3.500-9.300-7.800s4.200-8.200 9.300-8.200z"/>
<g fill="#8c8c8c" stroke="none"><circle cx="9.800" cy="9.800" r="1"/><circle cx="16.600" cy="9.800" r="1"/><circle cx="20.300" cy="16.200" r=".9"/><circle cx="26.300" cy="16.200" r=".9"/></g>
</svg>
<div class="a wm" style="left:511px;top:420.300px;font-size:15.600px">微信号</div>
<div class="a wm" style="left:559.800px;top:420.300px;font-size:16px;letter-spacing:1.050px">: soudaoyun</div>
<div class="a" style="left:0;top:460.6px;width:668px;height:6px;background:#fff"></div>
<div class="a" style="left:0;top:0;width:1px;height:466px;background:#fff"></div>
</body></html>
